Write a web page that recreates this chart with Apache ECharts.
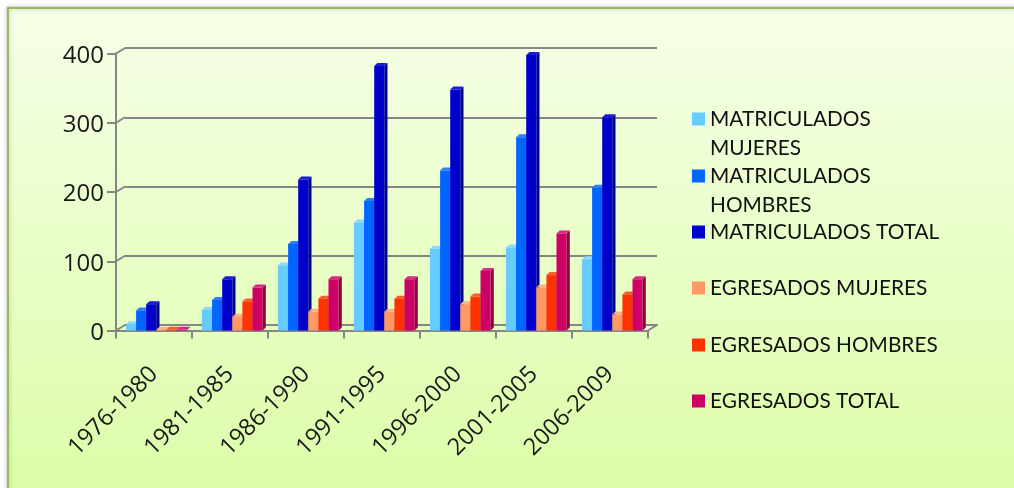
<!DOCTYPE html>
<html><head><meta charset="utf-8">
<style>html,body{margin:0;padding:0;background:#fff}#c{width:1014px;height:488px}</style>
<script src="https://cdn.jsdelivr.net/npm/echarts@6/dist/echarts.min.js"></script>
</head><body><div id="c"></div>
<script>
const categories = ['1976-1980','1981-1985','1986-1990','1991-1995','1996-2000','2001-2005','2006-2009'];
const yTicks = [0,100,200,300,400];
const matriculadosMujeres = [9,30,94,156,118,120,103];
const matriculadosHombres = [29,44,125,187,231,279,206];
const matriculadosTotal   = [38,74,218,382,348,398,308];
const egresadosMujeres = [1,20,27,27,38,62,23];
const egresadosHombres = [1,42,46,46,49,80,52];
const egresadosTotal   = [1,62,74,74,86,140,74];
const names = ['MATRICULADOS\nMUJERES','MATRICULADOS\nHOMBRES','MATRICULADOS TOTAL','EGRESADOS MUJERES','EGRESADOS HOMBRES','EGRESADOS TOTAL'];
const values = [matriculadosMujeres,matriculadosHombres,matriculadosTotal,egresadosMujeres,egresadosHombres,egresadosTotal];
const fronts = ['#66ccff','#0066ff','#0000cc','#ff9966','#ff3300','#cc0066'];
const sides  = ['#4a9ccc','#0048b8','#00008c','#c07048','#b82400','#8f0048'];
const tops   = ['#8cd8ff','#2a80ff','#1a1ad8','#ffb088','#ff5a2a','#d82a80'];

const DX=9, DY=5.5, SW=3.2, SH=3, BW=10.1;
const GL=116,GR=366,GT=53.5,GB=157.5;

function barRender(si){
  return function(params,api){
    const p=api.coord([api.value(0),api.value(1)]);
    const b=api.coord([api.value(0),0]);
    const x=p[0]+2.3+(si-3)*BW, y=p[1], y0=b[1];
    return {type:'group',children:[
      {type:'polygon',shape:{points:[[x+BW,y],[x+BW+SW,y-SH],[x+BW+SW,y0-SH],[x+BW,y0]]},style:{fill:sides[si]}},
      {type:'polygon',shape:{points:[[x,y],[x+SW,y-SH],[x+BW+SW,y-SH],[x+BW,y]]},style:{fill:tops[si]}},
      {type:'rect',shape:{x:x,y:y,width:BW,height:y0-y},style:{fill:fronts[si]}}
    ]};
  };
}
function slantRender(params,api){
  const p=api.coord([0,api.value(0)]);
  const x0=GL;
  return {type:'line',shape:{x1:x0,y1:p[1],x2:x0+DX,y2:p[1]-DY},style:{stroke:'#868686',lineWidth:2}};
}
function floorSlant(params,api){
  const p=api.coord([6,0]);
  const x0=1014-GR;
  return {type:'line',shape:{x1:x0,y1:p[1],x2:x0+DX,y2:p[1]-DY},style:{stroke:'#868686',lineWidth:2}};
}
const font='"Open Sans"';
const legendCenters=[119,176,232,288,345,401];
const option={
  animation:false,
  backgroundColor:'#fff',
  graphic:[{type:'rect',z:-10,silent:true,shape:{x:8,y:8,width:1030,height:500},
    style:{stroke:'#9bbb59',lineWidth:2,shadowBlur:4,shadowColor:'rgba(0,0,0,0.25)',
      fill:{type:'linear',x:0,y:0,x2:0,y2:1,colorStops:[{offset:0,color:'#f6ffe8'},{offset:0.96,color:'#dcfda8'},{offset:1,color:'#dcfda8'}]}}}],
  grid:[
    {left:GL,right:GR,top:GT,bottom:GB},
    {left:GL+DX,right:GR-DX,top:GT-DY,bottom:GB+DY}
  ],
  xAxis:[
    {type:'category',gridIndex:0,data:categories,
     axisLine:{lineStyle:{color:'#868686',width:2}},
     axisTick:{show:true,alignWithLabel:false,length:8,lineStyle:{color:'#868686',width:2}},
     axisLabel:{interval:0,rotate:45,color:'#1a1a1a',fontFamily:font,fontSize:23.5,margin:40}},
    {type:'category',gridIndex:1,data:categories,axisLine:{show:true,lineStyle:{color:'#868686',width:2}},axisTick:{show:false},axisLabel:{show:false}}
  ],
  yAxis:[
    {type:'value',gridIndex:0,min:0,max:400,interval:100,
     axisLine:{show:true,lineStyle:{color:'#868686',width:2}},
     axisTick:{show:true,length:9,lineStyle:{color:'#868686',width:2}},
     splitLine:{show:false},
     axisLabel:{color:'#1a1a1a',fontFamily:font,fontSize:24,margin:12,verticalAlign:'top',lineHeight:5}},
    {type:'value',gridIndex:1,min:0,max:400,interval:100,
     axisLine:{show:false},axisTick:{show:false},axisLabel:{show:false},
     splitLine:{show:true,lineStyle:{color:'#868686',width:2}}}
  ],
  legend:names.map((n,i)=>({
    orient:'vertical',left:692,padding:0,
    top:legendCenters[i]-(n.includes('\n')?43.5:14.5),
    data:[{name:n,icon:'rect',itemStyle:{color:fronts[i]}}],
    formatter:s=>s.includes('\n')?' \n'+s:s,
    itemWidth:13,itemHeight:13,selectedMode:false,
    textStyle:{color:'#111',fontFamily:'Lato',fontSize:20.8,lineHeight:29}
  })),
  series:[
    {type:'custom',xAxisIndex:0,yAxisIndex:0,renderItem:slantRender,data:yTicks.map(v=>[v]),encode:{y:0},silent:true,z:1},
    {type:'custom',xAxisIndex:0,yAxisIndex:0,renderItem:floorSlant,data:[[0]],silent:true,z:1},
    ...names.map((n,i)=>({
      name:n,type:'custom',xAxisIndex:0,yAxisIndex:0,z:5+i,silent:true,
      itemStyle:{color:fronts[i]},
      renderItem:barRender(i),
      encode:{x:0,y:1},
      data:values[i].map((v,k)=>[k,v])
    }))
  ]
};
const chart=echarts.init(document.getElementById('c'),null,{renderer:'canvas'});
chart.setOption(option);
</script></body></html>
